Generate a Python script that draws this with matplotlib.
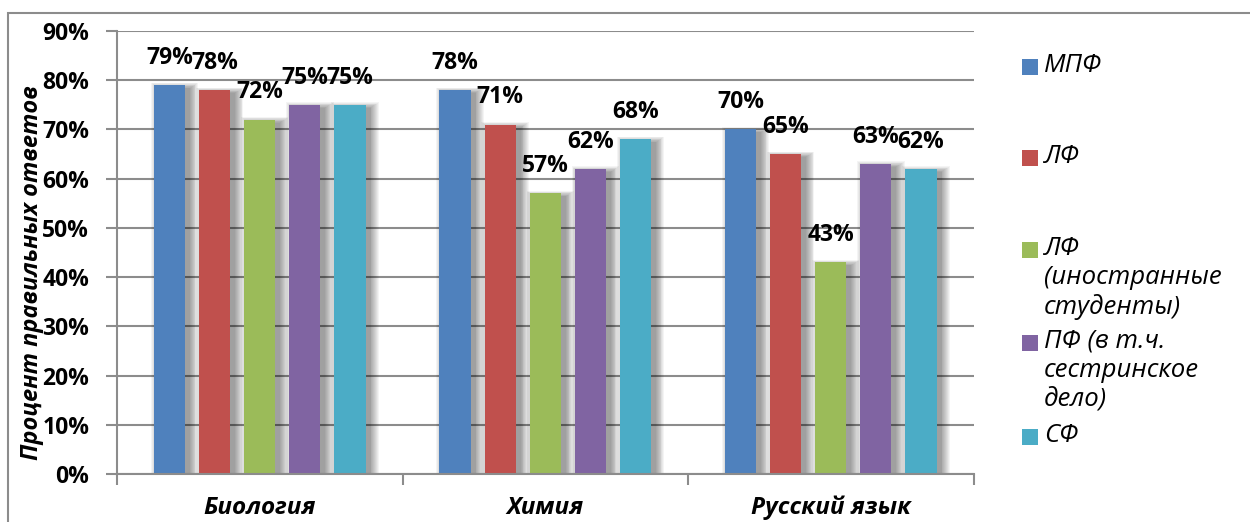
import matplotlib
matplotlib.use("Agg")
import matplotlib.pyplot as plt
from matplotlib.patches import Rectangle
import matplotlib.transforms as mtransforms
import numpy as np

categories = ["Биология", "Химия", "Русский язык"]
series_names = ["МПФ", "ЛФ", "ЛФ\n(иностранные\nстуденты)", "ПФ (в т.ч.\nсестринское\nдело)", "СФ"]
mpf = [79, 78, 70]
lf = [78, 71, 65]
lf_foreign = [72, 57, 43]
pf = [75, 62, 63]
sf = [75, 68, 62]
yticks = [0, 10, 20, 30, 40, 50, 60, 70, 80, 90]
colors = ["#4F81BD", "#C0504D", "#9BBB59", "#8064A2", "#4BACC6"]
values = [mpf, lf, lf_foreign, pf, sf]

FONT = ["Open Sans", "DejaVu Sans"]
plt.rcParams["font.family"] = FONT

W, H = 1250, 522
fig = plt.figure(figsize=(12.5, 5.22), dpi=100)
ax = fig.add_axes([117/W, 1-474/H, (973.5-117)/W, (474-31)/H])

x = np.arange(len(categories)) + 0.5
bw = 0.109
step = 0.158
pxx = 1/285.5
pxy = 90/443
for i, (vals, c) in enumerate(zip(values, colors)):
    xs = x + (i - 2) * step
    vals = np.array(vals)
    # soft blurred shadow (offset right/down, expanding layers)
    for e in range(0, 10):
        ax.bar(xs + 5*pxx, vals - 3*pxy + e*pxy*0.6, width=bw + 2*e*pxx*0.9,
               color="black", alpha=0.045, zorder=2, linewidth=0)
    ax.bar(xs, vals, width=bw, color=c, zorder=3, linewidth=0)
    for xi, v in zip(xs, vals):
        ax.annotate(f"{v}%", (xi, v), xytext=(0, 11), textcoords="offset points",
                    ha="center", va="bottom", fontsize=16.5, fontweight="bold", zorder=5)

ax.set_xlim(0, 3)
ax.set_ylim(0, 90)
ax.set_yticks(yticks)
ax.set_yticklabels([f"{t}%" for t in yticks], fontsize=16.5, fontweight="bold")
ax.yaxis.grid(True, color="#8c8c8c", linewidth=1.5, zorder=0)
ax.set_axisbelow(True)
ax.set_xticks([0, 1, 2, 3])
ax.set_xticklabels([])
ax.tick_params(axis="x", which="major", length=8, width=1.5, color="#8c8c8c", direction="out")
ax.tick_params(axis="y", length=8, width=1.5, color="#8c8c8c", pad=12)
for s in ["top", "right"]:
    ax.spines[s].set_visible(False)
for s in ["left", "bottom"]:
    ax.spines[s].set_color("#8c8c8c")
    ax.spines[s].set_linewidth(1.5)
    ax.spines[s].set_zorder(4)

trans = mtransforms.blended_transform_factory(ax.transData, fig.transFigure)
for xi, cat in zip(x, categories):
    ax.text(xi, 1-508/H, cat, transform=trans, ha="center", va="center",
            fontsize=17.5, fontweight="bold", style="italic")

fig.text(32/W, 1-273/H, "Процент правильных ответов", rotation=90, ha="center", va="center",
         fontsize=17, fontweight="bold", style="italic")

# legend
leg_y = [67, 158, 250, 343, 437]
for name, c, yy in zip(series_names, colors, leg_y):
    fig.patches.append(Rectangle((1022/W, 1-(yy+8)/H), 16/W, 16/H, transform=fig.transFigure,
                                 facecolor=c, edgecolor="none"))
    fig.text(1044/W, 1-(yy-14)/H, name, ha="left", va="top", fontsize=18.5, style="italic",
             linespacing=1.2)

# outer border
fig.patches.append(Rectangle((8/W, -0.1), 1.2, 1-13/H+0.1, transform=fig.transFigure,
                             facecolor="none", edgecolor="#8c8c8c", linewidth=1.5))

fig.savefig("out.png", dpi=100)
